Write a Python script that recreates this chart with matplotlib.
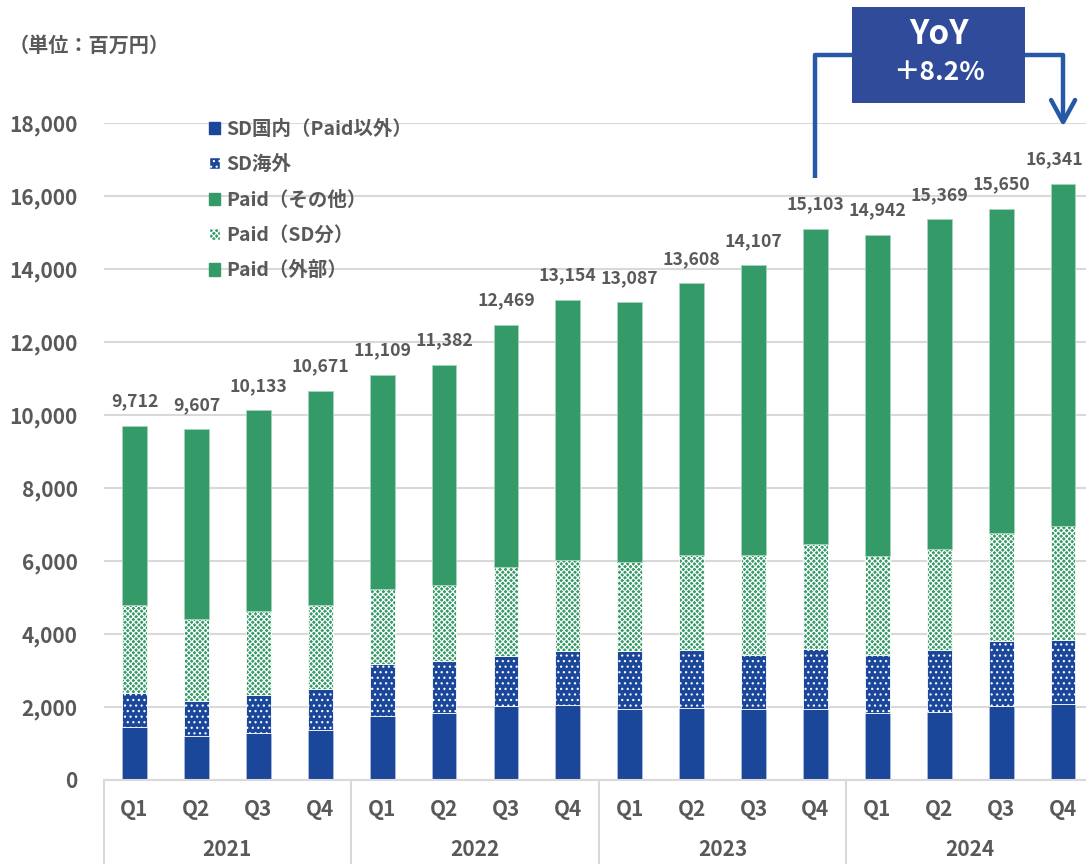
import numpy as np
import matplotlib
matplotlib.use("Agg")
import matplotlib.pyplot as plt
from matplotlib.patches import Patch, Rectangle
from matplotlib.transforms import blended_transform_factory

plt.rcParams['font.family'] = ['Noto Sans CJK JP', 'DejaVu Sans']
plt.rcParams['font.weight'] = 'bold'
plt.rcParams['hatch.linewidth'] = 0.85

years = ['2021', '2022', '2023', '2024']
quarters = ['Q1', 'Q2', 'Q3', 'Q4']

# 単位：百万円
sd_domestic = [1460, 1215, 1297, 1379, 1763, 1845, 2037, 2064,
               1954, 1973, 1954, 1954, 1845, 1872, 2037, 2091]
sd_overseas = [930, 940, 1032, 1114, 1415, 1406, 1360, 1470,
               1571, 1589, 1462, 1635, 1571, 1681, 1762, 1745]
paid_other = [0, 0, 0, 0, 0, 0, 0, 0, 0, 0, 0, 0, 0, 0, 0, 0]
paid_sd = [2410, 2265, 2292, 2311, 2064, 2101, 2439, 2493,
           2448, 2593, 2748, 2877, 2730, 2776, 2968, 3132]
paid_external = [4912, 5187, 5512, 5867, 5867, 6030, 6633, 7127,
                 7114, 7453, 7943, 8637, 8796, 9040, 8883, 9373]
totals = [9712, 9607, 10133, 10671, 11109, 11382, 12469, 13154,
          13087, 13608, 14107, 15103, 14942, 15369, 15650, 16341]
yoy_label = '＋8.2%'

BLUE = '#1B479B'
GREEN = '#349A67'
GRAY = '#595959'
GRID = '#D9D9D9'

fig = plt.figure(figsize=(10.86, 8.64), dpi=100)
ax = fig.add_axes([104 / 1086, 84 / 864, 982 / 1086, 657 / 864])

x = np.arange(len(totals))
w = 0.40
bottom = np.zeros(len(totals))
series = [
    (sd_domestic, dict(color=BLUE, edgecolor='#A9BBDD', linewidth=0.6)),
    (sd_overseas, dict(color=BLUE, edgecolor='white', linewidth=0.6, hatch='...')),
    (paid_other, dict(color=GREEN, edgecolor='#A6D3BB', linewidth=0.6)),
    (paid_sd, dict(color=GREEN, edgecolor='white', linewidth=0.6, hatch='xxxxxx')),
    (paid_external, dict(color=GREEN, edgecolor='#A6D3BB', linewidth=0.6)),
]
for vals, style in series:
    vals = np.array(vals)
    ax.bar(x, vals, w, bottom=bottom, zorder=2, **style)
    bottom += vals

for xi, t in zip(x, totals):
    # 右端のラベルは枠内に収める
    shift = -6 if xi == x[-1] else 0
    ax.annotate(f'{t:,}', (xi, t), xytext=(shift, 11), textcoords='offset points',
                ha='center', va='bottom', fontsize=12.7, color=GRAY, fontweight='bold')

ax.set_ylim(0, 18000)
ax.set_xlim(-0.493, 15.37)
ax.set_yticks(np.arange(0, 18001, 2000))
ax.set_yticklabels([f'{v:,}' for v in range(0, 18001, 2000)])
ax.tick_params(axis='y', length=0, pad=19, labelsize=15, labelcolor=GRAY)
ax.set_xticks([])
ax.grid(axis='y', color=GRID, linewidth=1.5, zorder=0)
ax.set_axisbelow(True)
for s in ['left', 'right', 'top']:
    ax.spines[s].set_visible(False)
ax.spines['bottom'].set_color(GRID)
ax.spines['bottom'].set_linewidth(1.5)

# 2段のカテゴリ軸
tr = blended_transform_factory(ax.transData, fig.transFigure)
tr_sep = blended_transform_factory(ax.transData, ax.transAxes)
for i, xi in enumerate(x):
    ax.text(xi, (864 - 809) / 864, quarters[i % 4], transform=tr, ha='center', va='center',
            fontsize=15, color=GRAY, fontweight='bold')
for g, yr in enumerate(years):
    ax.text(g * 4 + 1.5, (864 - 849) / 864, yr, transform=tr, ha='center', va='center',
            fontsize=15, color=GRAY, fontweight='bold')
for g in range(len(years) + 1):
    ax.plot([g * 4 - 0.5, g * 4 - 0.5], [0, -0.13], transform=tr_sep, color=GRID,
            linewidth=1.5, clip_on=False)

fig.text(9 / 1086, (864 - 45) / 864, '（単位：百万円）', ha='left', va='center',
         fontsize=14.5, color=GRAY, fontweight='bold')

handles = [
    Patch(facecolor=BLUE, edgecolor=BLUE, label='SD国内（Paid以外）'),
    Patch(facecolor=BLUE, edgecolor='white', hatch='...', label='SD海外'),
    Patch(facecolor=GREEN, edgecolor=GREEN, label='Paid（その他）'),
    Patch(facecolor=GREEN, edgecolor='white', hatch='xxxxxx', label='Paid（SD分）'),
    Patch(facecolor=GREEN, edgecolor=GREEN, label='Paid（外部）'),
]
leg = ax.legend(handles=handles, loc='upper left', bbox_to_anchor=(199 / 1086, (864 - 110) / 864),
                bbox_transform=fig.transFigure, frameon=False, fontsize=14,
                handlelength=0.6, handleheight=0.6, handletextpad=0.3, labelspacing=0.84,
                borderpad=0)
for t in leg.get_texts():
    t.set_color(GRAY)
    t.set_fontweight('bold')

# YoY 矢印
LINE = '#2658A6'
px = 1000 / 36.5
x0, x1 = 11, 15
y_start = 16493
y_top = 19863
y_tip = 18027
ax.plot([x0, x0, x1, x1], [y_start, y_top, y_top, y_tip], color=LINE, linewidth=3.2,
        clip_on=False, solid_joinstyle='round', solid_capstyle='butt', zorder=4)
dx = 12 / 61.9
ax.plot([x1 - dx, x1, x1 + dx], [y_tip + 22 * px, y_tip, y_tip + 22 * px], color=LINE,
        linewidth=3.2, clip_on=False, solid_joinstyle='round', solid_capstyle='round', zorder=4)
box = Rectangle((11.59, 18548), 14.39 - 11.59, 21178 - 18548, facecolor='#2F4B9A',
                edgecolor='none', clip_on=False, zorder=5)
ax.add_patch(box)
ax.text(12.99, 20411, 'YoY', ha='center', va='center', fontsize=24, color='white',
        fontweight='bold', zorder=6, clip_on=False)
ax.text(12.99, 19370, yoy_label, ha='center', va='center', fontsize=19, color='white',
        fontweight='bold', zorder=6, clip_on=False)

fig.savefig('out.png', dpi=100)
